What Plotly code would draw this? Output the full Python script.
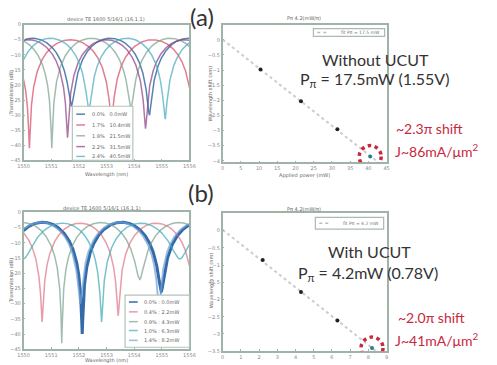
import numpy as np
import plotly.graph_objects as go

W, H = 497, 365

# ---------------- data ----------------
wl_min, wl_max = 1550.0, 1556.0
wl_ticks = [1550, 1551, 1552, 1553, 1554, 1555, 1556]

# (a) spectra without UCUT : null wavelengths (nm), null depths (dB), peak level (dB)
spec_a_labels = ["0.0%   0.0mW", "1.7%   10.4mW", "1.9%   21.5mW", "2.2%   31.5mW", "2.4%   40.5mW"]
spec_a_colors = ["rgba(40,100,160,0.8)", "rgba(215,70,100,0.7)", "rgba(120,160,140,0.7)",
                 "rgba(140,60,130,0.7)", "rgba(70,170,190,0.7)"]
spec_a_nulls = [[1551.73, 1554.55], [1550.21, 1553.18], [1551.02, 1553.88],
                [1551.59, 1554.41], [1552.36, 1555.12]]
spec_a_depths = [[-27, -30], [-41, -32], [-41, -28], [-37.5, -34.5], [-28.7, -31.3]]
spec_a_peak = [-4.5, -5.0, -4.5, -5.0, -4.5]

# (b) spectra with UCUT
spec_b_labels = ["0.0% : 0.0mW", "0.4% : 2.2mW", "0.9% : 4.3mW", "1.0% : 6.3mW", "1.4% : 8.2mW"]
spec_b_colors = ["rgba(30,90,160,0.9)", "rgba(215,90,110,0.6)", "rgba(120,160,140,0.7)",
                 "rgba(60,170,180,0.7)", "rgba(110,160,210,0.7)"]
spec_b_widths = [3.0, 1.5, 1.5, 1.5, 2.0]
spec_b_nulls = [[1552.12, 1554.98], [1550.67, 1553.42], [1551.38, 1554.20],
                [1552.82, 1555.65], [1552.05, 1554.90]]
spec_b_depths = [[-40, -26], [-36, -34], [-43, -22], [-36, -15], [-30, -32]]
spec_b_peak = [-3.2, -3.5, -3.3, -3.5, -3.2]

# wavelength shift vs applied power
power_a = [0, 10.4, 21.5, 31.5, 40.5]
shift_a = [0, -0.98, -2.03, -2.96, -3.86]
power_b = [0, 2.2, 4.3, 6.3, 8.2]
shift_b = [0, -0.85, -1.78, -2.61, -3.41]
shift_ticks_a = [0, -0.5, -1, -1.5, -2, -2.5, -3, -3.5, -4]
shift_ticks_b = [0, -0.5, -1, -1.5, -2, -2.5, -3, -3.5]

# ---------------- helpers ----------------
def px(x):
    return x / W

def py(y):
    return 1 - y / H

def mzi_curve(wl, nulls, depths, peak):
    n0, n1 = nulls
    fsr = n1 - n0
    ph = (wl - n0) / fsr
    k = np.round(ph).astype(int)
    dep = np.where(k % 2 == 0, depths[0], depths[1])
    eps = 10 ** ((dep - peak) / 10)
    t = np.sin(np.pi * ph) ** 2 + eps
    return peak + 10 * np.log10(t / (1 + eps))

wl = np.linspace(wl_min, wl_max, 3000)

fig = go.Figure()

AX = dict(showline=True, mirror=True, linecolor="#9fb3a8", linewidth=1.5,
          ticks="inside", ticklen=2, tickcolor="#9fb3a8", showgrid=False, zeroline=False,
          tickfont=dict(size=5, color="#888", family="DejaVu Sans"))

dom = {
    1: ([18, 188], [22, 160]),
    2: ([222, 390], [22, 162]),
    3: ([18, 188], [213, 352]),
    4: ([222, 390], [214, 354]),
}
lay = {}
for i, (xd, yd) in dom.items():
    xn = "xaxis" if i == 1 else f"xaxis{i}"
    yn = "yaxis" if i == 1 else f"yaxis{i}"
    lay[xn] = dict(AX, domain=[px(xd[0]), px(xd[1])], anchor=f"y{'' if i == 1 else i}")
    lay[yn] = dict(AX, domain=[py(yd[1]), py(yd[0])], anchor=f"x{'' if i == 1 else i}")

# spectra
for lbl, col, nl, dp, pk in zip(spec_a_labels, spec_a_colors, spec_a_nulls, spec_a_depths, spec_a_peak):
    fig.add_trace(go.Scatter(x=wl, y=mzi_curve(wl, nl, dp, pk), mode="lines", name=lbl,
                             line=dict(color=col, width=1.5), xaxis="x", yaxis="y", showlegend=False))
for lbl, col, lw, nl, dp, pk in zip(spec_b_labels, spec_b_colors, spec_b_widths, spec_b_nulls, spec_b_depths, spec_b_peak):
    fig.add_trace(go.Scatter(x=wl, y=mzi_curve(wl, nl, dp, pk), mode="lines", name=lbl,
                             line=dict(color=col, width=lw), xaxis="x3", yaxis="y3", showlegend=False))

# shift vs power
def add_shift(power, shift, xa, ya, xmax):
    p = np.polyfit(power, shift, 1)
    xs = np.array([0, xmax])
    fig.add_trace(go.Scatter(x=xs, y=np.polyval(p, xs), mode="lines",
                             line=dict(color="rgba(170,170,170,0.6)", width=2, dash="dot"),
                             xaxis=xa, yaxis=ya, showlegend=False))
    fig.add_trace(go.Scatter(x=power[1:-1], y=shift[1:-1], mode="markers",
                             marker=dict(color="#222", size=4),
                             xaxis=xa, yaxis=ya, showlegend=False))
    fig.add_trace(go.Scatter(x=power[-1:], y=shift[-1:], mode="markers",
                             marker=dict(color="#2a7f8a", size=4),
                             xaxis=xa, yaxis=ya, showlegend=False))

add_shift(power_a, shift_a, "x2", "y2", 45)
add_shift(power_b, shift_b, "x4", "y4", 9)

lay["xaxis"].update(range=[wl_min, wl_max], tickvals=wl_ticks)
lay["xaxis3"].update(range=[wl_min, wl_max], tickvals=wl_ticks)
lay["yaxis"].update(range=[-45, 0], dtick=5)
lay["yaxis3"].update(range=[-45, 0], dtick=5)
lay["xaxis2"].update(range=[0, 45], dtick=5)
lay["yaxis2"].update(range=[-4.05, 0.5], tickvals=shift_ticks_a)
lay["xaxis4"].update(range=[0, 9], dtick=1)
lay["yaxis4"].update(range=[-3.5, 0.5], tickvals=shift_ticks_b)

shapes = []
ann = []

def txt(x, y, s, size=5, color="#666", xanchor="center", family="DejaVu Sans", angle=0, **kw):
    ann.append(dict(x=px(x), y=py(y), xref="paper", yref="paper", text=s, showarrow=False,
                    xanchor=xanchor, yanchor="middle", textangle=angle,
                    font=dict(size=size, color=color, family=family), **kw))

# small titles / axis titles
txt(102, 16, "device TE 1600 5/16/1 (16,1,1)")
txt(98, 208, "device TE 1600 5/16/1 (16,1,1)")
txt(305, 15, "P\u03c0 4.2(mW/\u03c0)")
txt(305, 209, "P\u03c0 4.2(mW/\u03c0)")
txt(103, 174, "Wavelength (nm)")
txt(103, 363, "Wavelength (nm)")
txt(306, 175, "Applied power (mW)")
txt(5, 91, "Transmission (dB)", angle=-90)
txt(5, 282, "Transmission (dB)", angle=-90)
txt(210, 92, "Wavelength shift (nm)", angle=-90)
txt(210, 282, "Wavelength shift (nm)", angle=-90)

# manual legends for spectra
def legend_box(x0, y0, x1, y1, rows, labels, colors, tx):
    shapes.append(dict(type="rect", xref="paper", yref="paper", x0=px(x0), x1=px(x1), y0=py(y1), y1=py(y0),
                       line=dict(color="#b5c4bc", width=1.2), fillcolor="white"))
    for r, l, c in zip(rows, labels, colors):
        shapes.append(dict(type="line", xref="paper", yref="paper", x0=px(x0 + 4), x1=px(x0 + 13),
                           y0=py(r), y1=py(r), line=dict(color=c, width=1.5)))
        txt(tx, r, l, size=5, color="#666", xanchor="left")

legend_box(68, 105, 130, 160, [113, 124, 135, 146, 156], spec_a_labels, spec_a_colors, 86)
legend_box(122, 297, 188, 350, [304, 314, 324, 333, 343], spec_b_labels, spec_b_colors, 139)

# legends of fits
for (x0, y0, x1, y1, s) in [(315, 26, 388, 34, "fit P\u03c0 = 17.5 mW"), (317, 218, 387, 230, "fit P\u03c0 = 4.2 mW")]:
    shapes.append(dict(type="rect", xref="paper", yref="paper", x0=px(x0), x1=px(x1), y0=py(y1), y1=py(y0),
                       line=dict(color="#aab9b1", width=1.2), fillcolor="white"))
    shapes.append(dict(type="line", xref="paper", yref="paper", x0=px(x0 + 4), x1=px(x0 + 14),
                       y0=py((y0 + y1) / 2), y1=py((y0 + y1) / 2),
                       line=dict(color="#bbb", width=1.5, dash="dot")))
    txt(x1 - 3, (y0 + y1) / 2, s, size=4.5, color="#777", xanchor="right")

# red dotted circles around last point
for xa, ya, pw, sh in [("x2", "y2", power_a, shift_a), ("x4", "y4", power_b, shift_b)]:
    shapes.append(dict(type="circle", xref=xa, yref=ya, xsizemode="pixel", ysizemode="pixel",
                       xanchor=pw[-1], yanchor=sh[-1], x0=-11, x1=11, y0=-11, y1=11,
                       line=dict(color="#c8283e", width=3.5, dash="dot")))

# big labels
FONT = "Lato"
txt(201, 14, "(a)", size=24, color="#333", family=FONT)
txt(200, 193, "(b)", size=24, color="#333", family=FONT)
txt(379, 57, "Without UCUT", size=16, color="#333", family=FONT)
txt(378, 78, "P<sub>\u03c0</sub> = 17.5mW (1.55V)", size=16, color="#333", family=FONT)
txt(373, 253, "With UCUT", size=16, color="#333", family=FONT)
txt(371, 275, "P<sub>\u03c0</sub> = 4.2mW (0.78V)", size=16, color="#333", family=FONT)
txt(398, 128, "~2.3\u03c0 shift", size=14, color="#c8283e", xanchor="left", family=FONT)
txt(397, 150, "J~86mA/\u03bcm<sup>2</sup>", size=14, color="#c8283e", xanchor="left", family=FONT)
txt(400, 320, "~2.0\u03c0 shift", size=14, color="#c8283e", xanchor="left", family=FONT)
txt(397, 342, "J~41mA/\u03bcm<sup>2</sup>", size=14, color="#c8283e", xanchor="left", family=FONT)

fig.update_layout(width=W, height=H, margin=dict(l=0, r=0, t=0, b=0),
                  paper_bgcolor="white", plot_bgcolor="white",
                  shapes=shapes, annotations=ann, showlegend=False, **lay)

fig.write_html("out.html")
